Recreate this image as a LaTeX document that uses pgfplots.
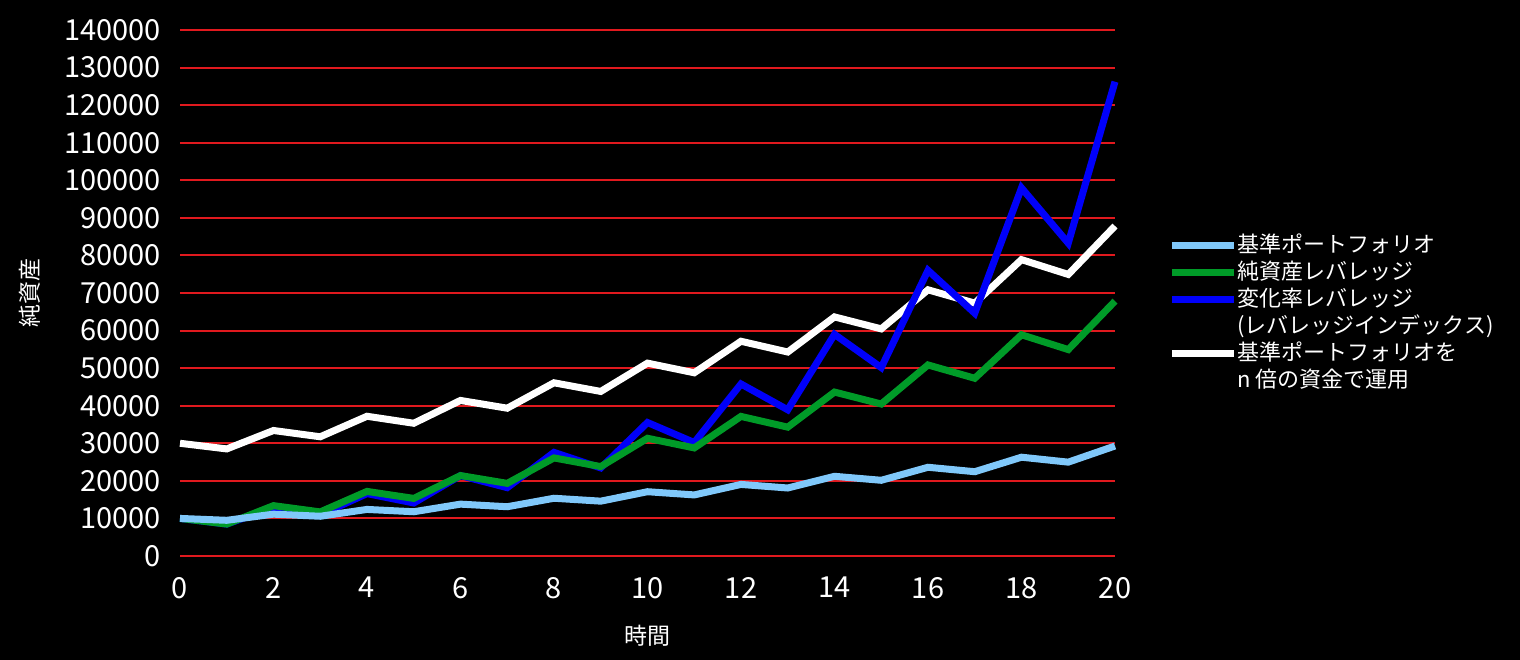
\documentclass[border=0pt]{standalone}
\usepackage{fontspec}
\setmainfont{Noto Sans CJK JP}
\usepackage{pgfplots}
\usepackage{pgfplotstable}
\pgfplotsset{compat=1.18}
\definecolor{gridred}{RGB}{225,25,30}
\definecolor{lblue}{RGB}{128,200,250}
\definecolor{dgreen}{RGB}{0,155,40}
\definecolor{pblue}{RGB}{0,0,250}

\pgfplotstableread{
t base netlev ratelev nbase
0 10000 10000 10000 30000
1 9500 8500 8500 28500
2 11134 13402 12886 33402
3 10577 11732 10953 31732
4 12397 17190 16605 37190
5 11777 15330 14114 35330
6 13802 21407 21397 41407
7 13112 19337 18188 39337
8 15368 26103 27572 46103
9 14599 23798 23437 43798
10 17110 31331 35530 51331
11 16255 28764 30200 48764
12 19051 37152 45784 57152
13 18098 34294 38916 54294
14 21211 43633 58997 63633
15 20151 40452 50147 60452
16 23616 50849 76023 70849
17 22436 47307 64620 67307
18 26295 58884 97963 78884
19 24980 54939 83269 74939
20 29276 67829 126236 87829
}\datatable

\begin{document}
\begin{tikzpicture}
\fill[black] (0,0) rectangle (760bp,330bp);
\useasboundingbox (0,0) rectangle (760bp,330bp);
\begin{axis}[
  at={(90bp,52bp)}, anchor=south west,
  scale only axis, width=467.5bp, height=263bp,
  xmin=0, xmax=20, ymin=0, ymax=140000,
  xtick={0,2,4,6,8,10,12,14,16,18,20},
  ytick distance=10000,
  scaled y ticks=false,
  yticklabel style={/pgf/number format/fixed, /pgf/number format/1000 sep={}},
  /pgf/number format/assume math mode=true,
  axis line style={draw=none},
  major tick length=0pt,
  ymajorgrids,
  grid style={gridred, line width=1bp},
  ticklabel style={text=white, font=\fontsize{14.5bp}{17bp}\selectfont},
  xticklabel style={yshift=-7bp},
  yticklabel style={xshift=-6bp},
  clip=false,
  xlabel={時間}, ylabel={純資産},
  xlabel style={at={(axis description cs:0.5,-0.152)}, anchor=center, color=white,
    font=\fontsize{11.5bp}{14bp}\selectfont},
  ylabel style={at={(axis description cs:-0.161,0.5)}, rotate=0, anchor=center, color=white,
    font=\fontsize{11.5bp}{14bp}\selectfont},
  legend style={at={(axis description cs:1.0567,0.615)}, anchor=north west,
    draw=none, fill=none, text=white, inner sep=0pt,
    font=\fontsize{11bp}{12bp}\selectfont,
    row sep=0bp,
    nodes={inner sep=0pt, text height=10bp, text depth=3.5bp, anchor=base west}},
  legend cell align=left,
  reverse legend,
  legend image code/.code={\draw[#1] (0bp,3.8bp) -- (31bp,3.8bp);},
  every axis plot/.append style={line width=3.5bp},
]
\addlegendimage{empty legend}
\addplot[white] table[x=t, y=nbase] {\datatable};
\addlegendimage{empty legend}
\addplot[pblue] table[x=t, y=ratelev] {\datatable};
\addplot[dgreen] table[x=t, y=netlev] {\datatable};
\addplot[lblue] table[x=t, y=base] {\datatable};
\legend{n 倍の資金で運用, 基準ポートフォリオを, (レバレッジインデックス), 変化率レバレッジ, 純資産レバレッジ, 基準ポートフォリオ}
\end{axis}
\end{tikzpicture}
\end{document}
